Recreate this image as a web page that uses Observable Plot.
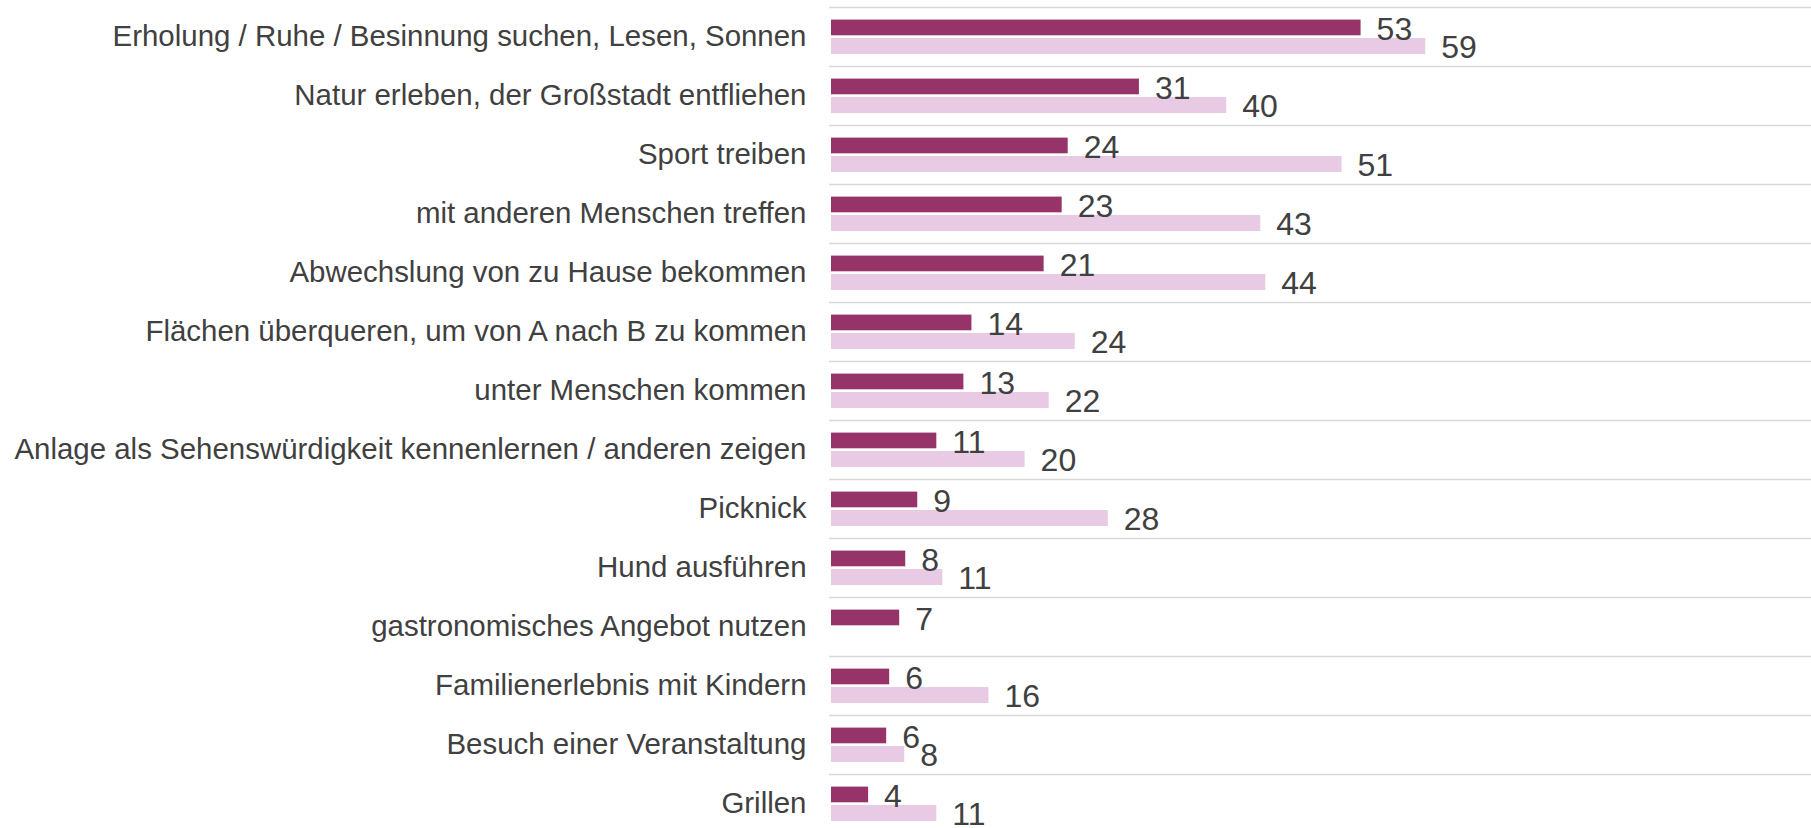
<!DOCTYPE html>
<html>
<head>
<meta charset="utf-8">
<script src="https://cdn.jsdelivr.net/npm/d3@7"></script>
<script src="https://cdn.jsdelivr.net/npm/@observablehq/plot@0.6"></script>
<style>
html, body { margin: 0; padding: 0; background: #fff; overflow: hidden; }
</style>
</head>
<body>
<div id="chart"></div>
<script>
// Categories (top to bottom)
const categories = [
  "Erholung / Ruhe / Besinnung suchen, Lesen, Sonnen",
  "Natur erleben, der Großstadt entfliehen",
  "Sport treiben",
  "mit anderen Menschen treffen",
  "Abwechslung von zu Hause bekommen",
  "Flächen überqueren, um von A nach B zu kommen",
  "unter Menschen kommen",
  "Anlage als Sehenswürdigkeit kennenlernen / anderen zeigen",
  "Picknick",
  "Hund ausführen",
  "gastronomisches Angebot nutzen",
  "Familienerlebnis mit Kindern",
  "Besuch einer Veranstaltung",
  "Grillen"
];
const darkValues = [52.8, 30.7, 23.6, 23.0, 21.2, 14.0, 13.2, 10.5, 8.6, 7.4, 6.8, 5.8, 5.5, 3.7];
const darkLabels = ["53", "31", "24", "23", "21", "14", "13", "11", "9", "8", "7", "6", "6", "4"];
// Light series: bar lengths as read from the picture, and printed labels (no value for gastronomy)
const lightValues = [59.25, 39.4, 50.9, 42.8, 43.3, 24.3, 21.7, 19.3, 27.6, 11.1, null, 15.7, 7.3, 10.5];
const lightLabels = ["59", "40", "51", "43", "44", "24", "22", "20", "28", "11", null, "16", "8", "11"];

const darkRows = categories.map((c, i) => ({category: c, value: darkValues[i], label: darkLabels[i]}));
const lightRows = categories.map((c, i) => ({category: c, value: lightValues[i], label: lightLabels[i]}))
  .filter(d => d.value != null);

const W = 1811, H = 828;
const x0 = 831, pxPerUnit = 10.03;
const xMax = (W - x0) / pxPerUnit;
const bandTop = 6.7, step = 59;
const textColor = "#404040";

const chart = Plot.plot({
  width: W,
  height: H,
  marginLeft: x0,
  marginRight: 0,
  marginTop: 0,
  marginBottom: 0,
  style: {fontFamily: "Arial, 'Liberation Sans', sans-serif", background: "#fff", overflow: "hidden"},
  x: {domain: [0, xMax], axis: null},
  y: {domain: categories, range: [bandTop, bandTop + step * categories.length], padding: 0, axis: null},
  marks: [
    Plot.ruleY(categories, {y: d => d, dy: -step / 2, x1: () => -0.2, x2: () => xMax, stroke: "#d9d9d9", strokeWidth: 1.6}),
    Plot.barX(darkRows, {y: "category", x: "value", fill: "#963469", insetTop: 12.6, insetBottom: 30.7}),
    Plot.barX(lightRows, {y: "category", x: "value", fill: "#e8cae4", insetTop: 31, insetBottom: 12}),
    Plot.text(darkRows, {y: "category", x: "value", text: "label", textAnchor: "start", dx: 15.5, dy: -7.3, fontSize: 32, fill: textColor}),
    Plot.text(lightRows, {y: "category", x: "value", text: "label", textAnchor: "start", dx: 15.5, dy: 11.2, fontSize: 32, fill: textColor}),
    Plot.text(categories, {y: d => d, x: () => 0, text: d => d, textAnchor: "end", dx: -25, fontSize: 29.45, fill: textColor})
  ]
});
document.getElementById("chart").appendChild(chart);
</script>
</body>
</html>
